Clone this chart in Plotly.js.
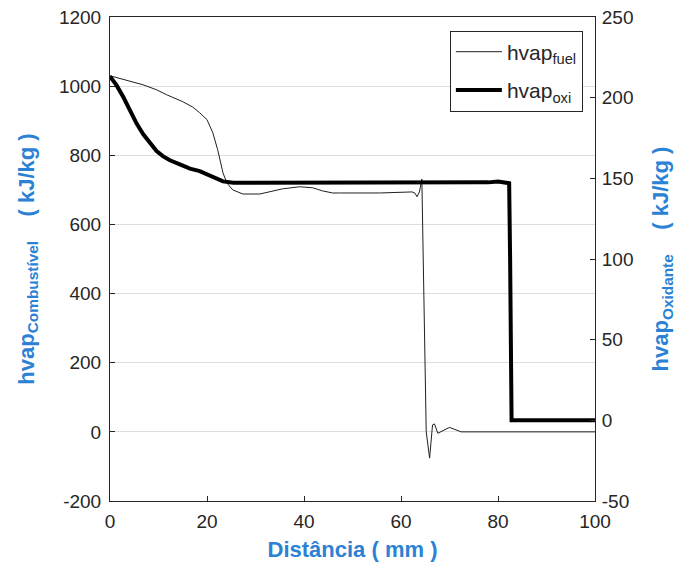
<!DOCTYPE html>
<html>
<head>
<meta charset="utf-8">
<script src="https://cdn.plot.ly/plotly-3.0.1.min.js"></script>
<style>html,body{margin:0;padding:0;background:#fff;}#chart{width:684px;height:569px;}</style>
</head>
<body>
<div id="chart"></div>
<script>
// Fuel vaporization enthalpy (left axis, kJ/kg)
const fuelX = [0, 3, 6.8, 9.5, 11.7, 15, 17, 18.5, 20, 21.2, 22.2, 23.3, 24.1, 25.3, 27.4, 30.9, 35.6, 39.1, 41.8, 43.8, 45.9, 47.3, 55.6, 62.3, 62.9, 63.3, 63.8, 64.3, 65.2, 65.9, 66.5, 66.9, 67.6, 70.0, 72.4, 80, 100];
const fuelY = [1030, 1018, 1004, 990, 975, 955, 940, 923, 903, 865, 816, 749, 720, 700, 688, 688, 703, 709, 706, 697, 691, 691, 691, 694, 690, 680, 694, 731, 0, -76, 20, 23, -4, 13, 0, 0, 0];
// Oxidizer vaporization enthalpy (right axis, kJ/kg)
const oxiX = [0, 1.37, 2.74, 4.12, 5.49, 6.86, 8.23, 9.6, 10.97, 12.35, 14.4, 16.5, 18.5, 20.6, 22.3, 23.3, 25.4, 40, 60, 78, 80, 82.0, 82.3, 82.5, 82.7, 82.8, 90, 100];
const oxiY = [213.2, 207.6, 200.4, 192.2, 183.9, 177.3, 171.9, 166.9, 163.6, 161.2, 158.7, 156, 154.5, 151.9, 149.4, 148.1, 147.3, 147.3, 147.3, 147.5, 148, 147.5, 147, 100, 40, 0, 0, 0];

const xTicks = [0, 20, 40, 60, 80, 100];
const yLeftTicks = [-200, 0, 200, 400, 600, 800, 1000, 1200];
const yLeftLabels = ['-200', '0', '200', '400', '600', '800', '1000', '1200'];
const yRightTicks = [-50, 0, 50, 100, 150, 200, 250];
const yRightLabels = ['-50', '0', '50', '100', '150', '200', '250'];

const blue = '#2b82d4';
const ink = '#262626';
const fam = 'Liberation Sans, Arial, sans-serif';

const traces = [
  {x: fuelX, y: fuelY, type: 'scatter', mode: 'lines', name: 'hvap<sub>fuel</sub>',
   line: {color: '#202020', width: 1}, yaxis: 'y', legendgroup: 'a'},
  {x: oxiX, y: oxiY, type: 'scatter', mode: 'lines', name: 'hvap<sub>oxi</sub>',
   line: {color: '#000000', width: 4}, yaxis: 'y2', legendgroup: 'b'}
];

const layout = {
  width: 684, height: 569,
  margin: {l: 110, r: 89, t: 17, b: 68},
  paper_bgcolor: '#ffffff', plot_bgcolor: '#ffffff',
  font: {family: fam, size: 19, color: ink},
  showlegend: true,
  legend: {x: 0.975, xanchor: 'right', y: 0.972, yanchor: 'top',
           bordercolor: ink, borderwidth: 1, bgcolor: '#ffffff',
           font: {size: 21, color: ink}, tracegroupgap: 8, itemwidth: 46},
  xaxis: {range: [0, 100], tickvals: xTicks, ticks: 'inside', ticklen: 5,
          tickcolor: ink, showline: true, linecolor: ink, linewidth: 1, mirror: true,
          showgrid: false, zeroline: false, tickfont: {size: 19, color: ink},
          ticklabelstandoff: 3,
          title: {text: '<b>Distância ( mm )</b>', font: {size: 22, color: blue, family: fam}, standoff: 10}},
  yaxis: {range: [-200, 1200], tickvals: yLeftTicks, ticktext: yLeftLabels, ticks: 'inside', ticklen: 5,
          tickcolor: ink, showline: true, linecolor: ink, linewidth: 1,
          showgrid: true, gridcolor: '#dedede', gridwidth: 1, zeroline: false,
          tickfont: {size: 19, color: ink}, ticklabelstandoff: 4,
          title: {text: '<b>hvap<sub>Combustível</sub>    ( kJ/kg )</b>', font: {size: 22, color: blue, family: fam}, standoff: 18}},
  yaxis2: {range: [-50, 250], tickvals: yRightTicks, ticktext: yRightLabels, overlaying: 'y', side: 'right',
           ticks: 'inside', ticklen: 5, tickcolor: ink, showline: true, linecolor: ink,
           linewidth: 1, showgrid: false, zeroline: false,
           tickfont: {size: 19, color: ink}, ticklabelstandoff: 2,
           title: {text: '<b>hvap<sub>Oxidante</sub>    ( kJ/kg )</b>', font: {size: 22, color: blue, family: fam}, standoff: 20}}
};

Plotly.newPlot('chart', traces, layout, {displayModeBar: false, staticPlot: true});
</script>
</body>
</html>
